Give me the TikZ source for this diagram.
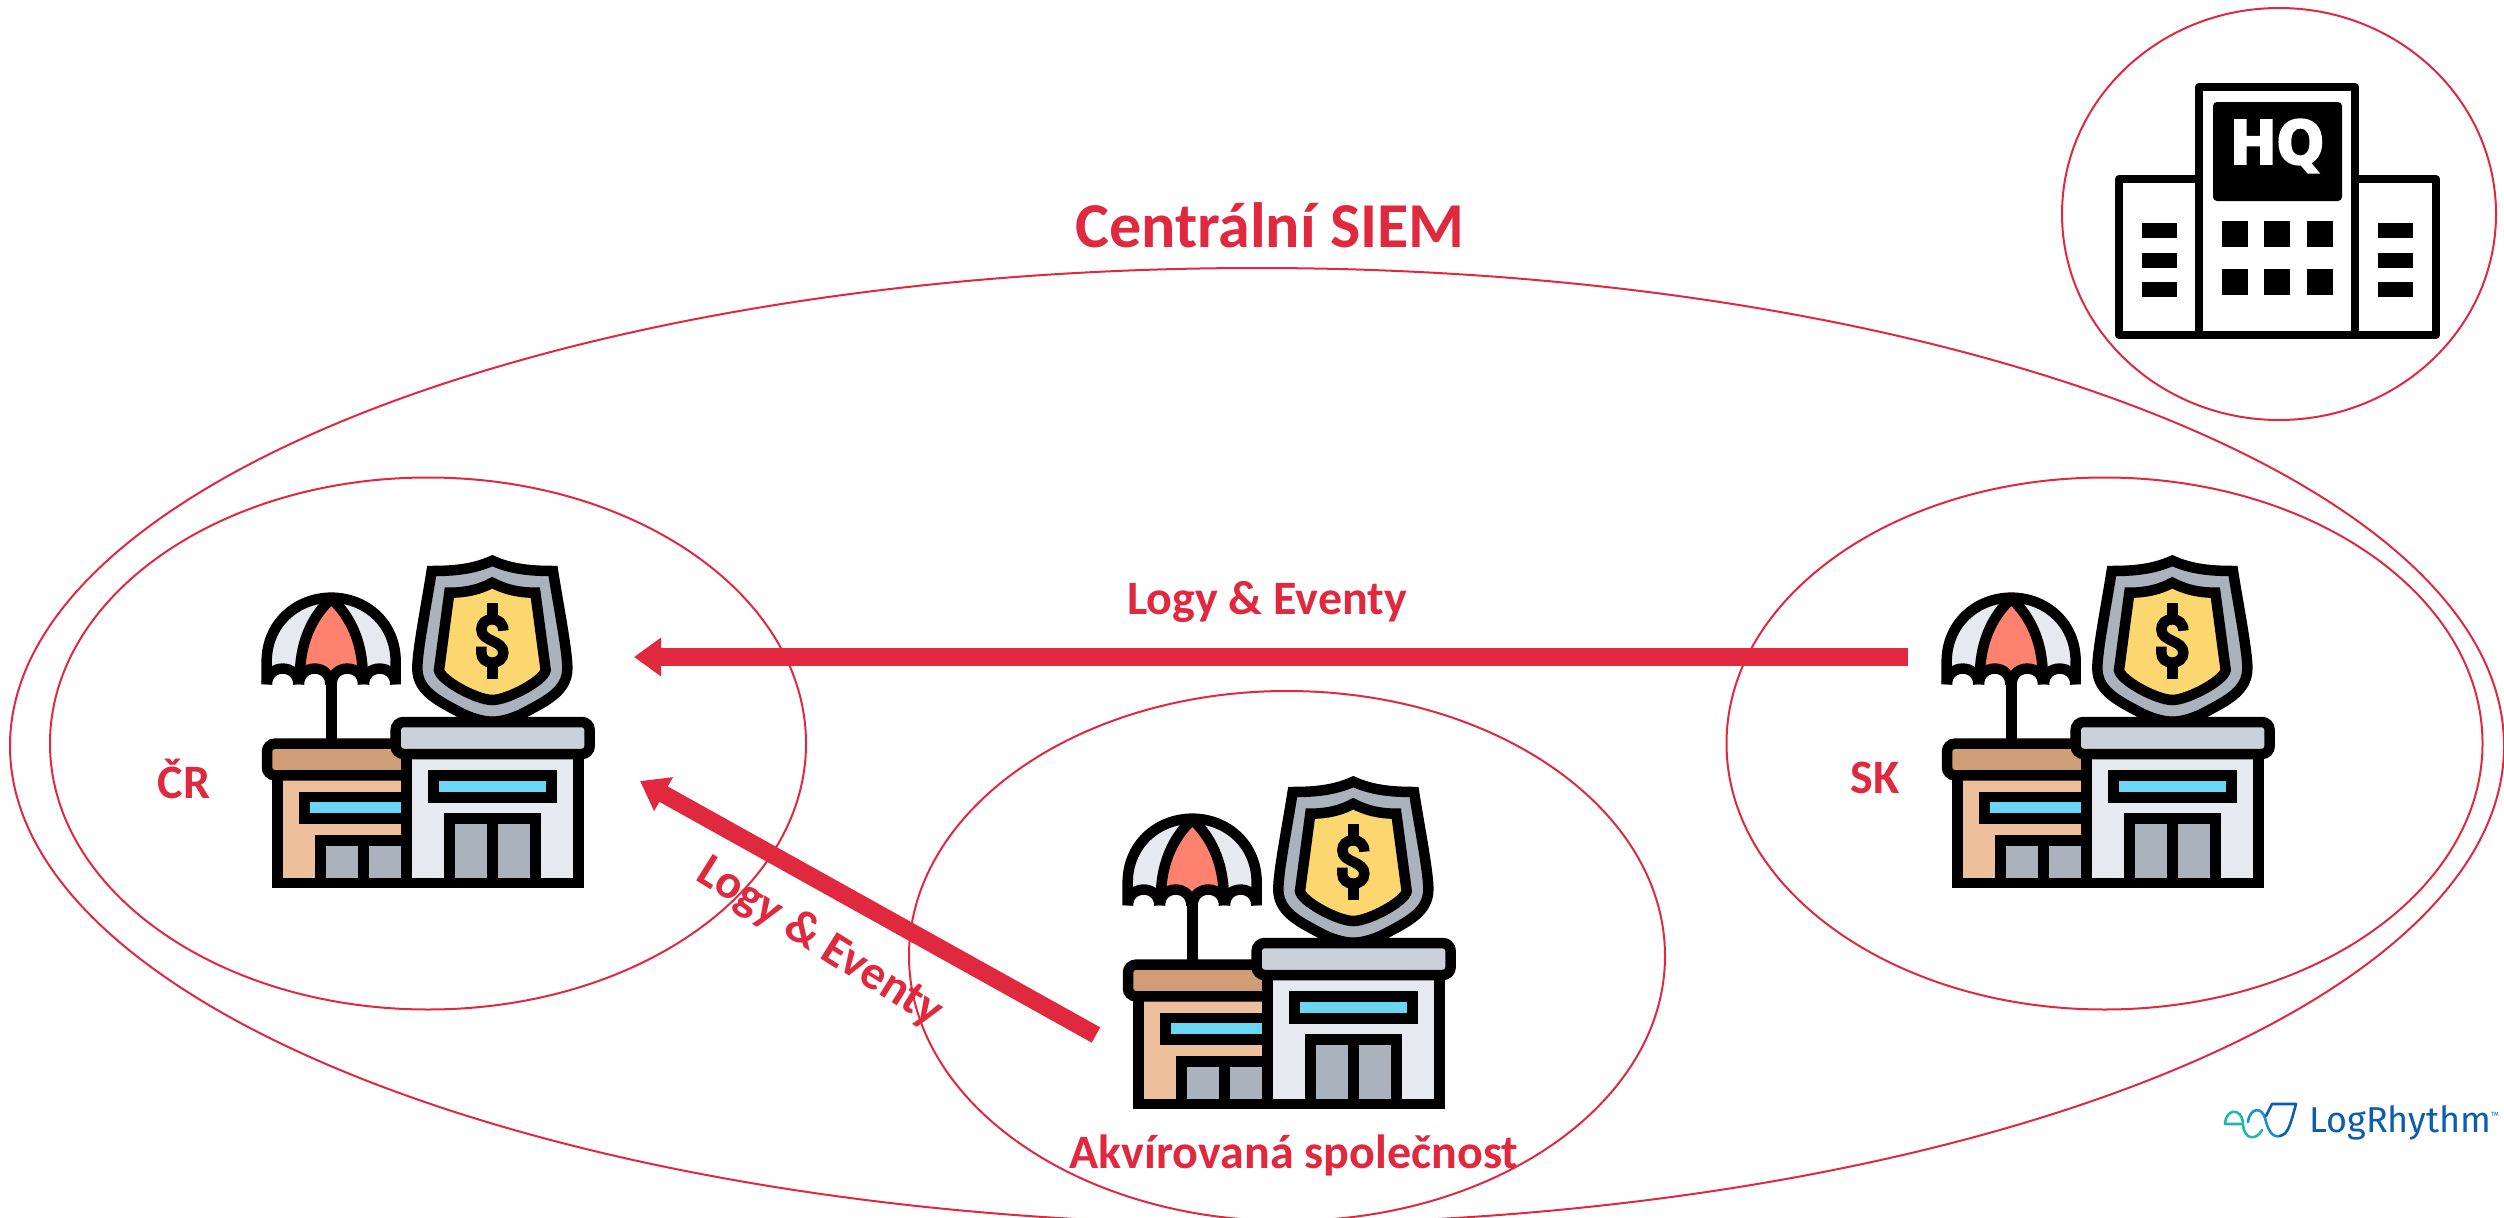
\documentclass[tikz,border=0pt]{standalone}
\usepackage{fontspec}
\setmainfont{Carlito}
\newfontfamily\hqfont[BoldFeatures={FakeBold=3.5}]{DejaVu Sans}
\newfontfamily\logofont{Fira Sans}
\usetikzlibrary{arrows.meta,shapes.geometric}
\definecolor{brandred}{HTML}{E0293E}
\definecolor{pgray}{HTML}{AAB2BD}
\definecolor{lgray}{HTML}{E6E9EE}
\definecolor{rgray}{HTML}{CCD1D9}
\definecolor{pblue}{HTML}{69D6F4}
\definecolor{pyellow}{HTML}{FCD770}
\definecolor{pcoral}{HTML}{FF826E}
\definecolor{pbrown}{HTML}{CF9E76}
\definecolor{ppeach}{HTML}{EDC09B}
\definecolor{logoblue}{HTML}{0B5DB3}
\definecolor{logomid}{HTML}{1A8FD6}
\definecolor{logoteal}{HTML}{22B8A6}
\tikzset{
  ring/.style={draw=brandred,line width=2pt,ellipse,inner sep=0pt,fill=none},
  redtext/.style={text=brandred,font=\bfseries\fontsize{48}{52}\selectfont,inner sep=0pt},
  bigarrow/.style={draw=brandred,line width=17.5pt,-{Triangle[length=27pt,width=37pt]}},
  ink/.style={draw=black,line width=10.5pt,miter limit=6},
  icon/.pic={
    \begin{scope}[x=0.33333pt,y=-0.33333pt]
      % pole
      \draw[ink] (274,400) -- (274,610);
      % umbrella canopy
      \fill[lgray] (80,433) -- (80,365) .. controls (80,250) and (170,173) .. (274,173)
        .. controls (378,173) and (467,250) .. (467,365) -- (467,433)
        .. controls (467,370) and (371,370) .. (371,433)
        .. controls (371,370) and (274,370) .. (274,433)
        .. controls (274,370) and (176,370) .. (176,433)
        .. controls (176,370) and (81,370) .. (81,433) -- cycle;
      \fill[pcoral] (274,178) .. controls (220,225) and (183,300) .. (180,395) -- (224,386) -- (274,420) -- (322,386) -- (368,395)
        .. controls (365,300) and (328,225) .. (274,178) -- cycle;
      \draw[ink] (80,433) -- (80,365) .. controls (80,250) and (170,173) .. (274,173)
        .. controls (378,173) and (467,250) .. (467,365) -- (467,433);
      \foreach \c in {128,224,322,419} {
        \draw[ink] (\c-47,433) .. controls (\c-47,370) and (\c+47,370) .. (\c+47,433);
      }
      \draw[ink] (274,176) .. controls (220,225) and (183,300) .. (180,395);
      \draw[ink] (274,176) .. controls (328,225) and (365,300) .. (368,395);
      % left building
      \draw[ink,fill=ppeach] (113,690) -- (113,1029) -- (500,1029) -- (500,690) -- cycle;
      \draw[ink,fill=pbrown,rounded corners=8pt] (81,706) rectangle (520,611);
      \draw[ink,fill=pblue] (193,771) rectangle (500,836);
      \draw[ink,fill=pgray] (241,1029) -- (241,901) -- (500,901) -- (500,1029) -- cycle;
      \draw[ink] (370,901) -- (370,1029);
      % shield
      \draw[ink,fill=pgray] (757,62) .. controls (700,88) and (640,93) .. (575,93)
        .. controls (560,190) and (532,330) .. (532,385)
        .. controls (532,450) and (590,480) .. (650,512) .. controls (690,535) and (730,545) .. (757,545)
        .. controls (784,545) and (824,535) .. (864,512) .. controls (924,480) and (982,450) .. (982,385)
        .. controls (982,330) and (954,190) .. (939,93)
        .. controls (874,93) and (814,88) .. (757,62) -- cycle;
      \draw[ink,fill=pyellow] (757,128) .. controls (720,148) and (680,158) .. (628,158)
        -- (597,390) .. controls (600,420) and (710,480) .. (757,480)
        .. controls (804,480) and (914,420) .. (917,390) -- (886,158)
        .. controls (834,158) and (794,148) .. (757,128) -- cycle;
      % dollar sign
      \draw[ink] (757,190) -- (757,238);
      \draw[ink] (757,368) -- (757,417);
      \draw[ink] (790,272) .. controls (790,250) and (775,238) .. (757,238)
        .. controls (737,238) and (724,250) .. (724,268)
        .. controls (724,288) and (742,295) .. (757,303)
        .. controls (775,311) and (790,320) .. (790,338)
        .. controls (790,356) and (775,368) .. (757,368)
        .. controls (738,368) and (724,356) .. (724,338) -- (724,320);
      % right building
      \draw[ink,fill=lgray] (499,630) -- (499,1029) -- (1015,1029) -- (1015,630);
      \draw[ink,fill=rgray,rounded corners=8pt] (467,546) rectangle (1049,642);
      \draw[ink,fill=pblue] (580,707) rectangle (935,772);
      \draw[ink,fill=pgray] (628,1029) -- (628,836) -- (887,836) -- (887,1029) -- cycle;
      \draw[ink] (757,836) -- (757,1029);
    \end{scope}
  }
}
\begin{document}
\begin{tikzpicture}[x=1pt,y=-1pt]
  \useasboundingbox (0,0) rectangle (2504,1218);
  \fill[white] (0,0) rectangle (2504,1218);
  % rings
  \node[ring,minimum width=2494pt,minimum height=956pt] (central) at (1257,746) {};
  \node[ring,minimum width=756pt,minimum height=532pt] (cr) at (428,743.5) {};
  \node[ring,minimum width=756pt,minimum height=532pt] (sk) at (2104.5,743.5) {};
  \node[ring,minimum width=756pt,minimum height=530pt] (akv) at (1287,956) {};
  \node[ring,minimum width=434pt,minimum height=412pt] (hq) at (2279,214) {};
  % branch icons
  \pic at (240,540) {icon};
  \pic at (1920,540) {icon};
  \pic at (1101,761) {icon};
  % connectors
  \coordinate (skout) at (1908,657);
  \coordinate (crin1) at (634,657);
  \coordinate (akvout) at (1096,1035);
  \coordinate (crin2) at (640,781);
  \draw[bigarrow] (skout) -- (crin1);
  \draw[bigarrow] (akvout) -- (crin2);
  % labels
  \node[redtext,font=\bfseries\fontsize{64}{68}\selectfont] (title) at (1270,225) {Centrální SIEM};
  \node[redtext] (lbl1) at (1267,602) {Logy \& Eventy};
  \node[redtext,rotate=-32] (lbl2) at (820,943) {Logy \& Eventy};
  \node[redtext] (lcr) at (184,779) {ČR};
  \node[redtext] (lsk) at (1875,778) {SK};
  \node[redtext] (lakv) at (1294,1155) {Akvírovaná společnost};
  % HQ building
  \begin{scope}[line join=round]
    \draw[black,line width=8pt] (2119,179) rectangle (2436,335);
    \draw[black,line width=8pt,fill=white] (2199,87) rectangle (2355,335);
    \fill[black,rounded corners=4pt] (2213,102) rectangle (2342,201);
    \foreach \wx in {2222,2264,2307} {
      \foreach \wy in {221,269} { \fill[black] (\wx,\wy) rectangle +(26,26); }
    }
    \foreach \bx in {2142,2378} {
      \foreach \by in {223,253,282} { \fill[black] (\bx,\by) rectangle +(35,15); }
    }
  \end{scope}
  \node[text=white,font=\hqfont\bfseries\fontsize{60}{64}\selectfont,inner sep=0pt,xscale=.93] (hqtext) at (2277,146) {HQ};
  % LogRhythm logo
  \begin{scope}[line width=2.6pt,line cap=round,line join=round]
    \draw[logoteal] (2243,1124) -- (2225,1124) .. controls (2226,1108) and (2241,1108) .. (2243,1122);
    \draw[logoteal] (2243,1124) .. controls (2244,1140) and (2256,1141) .. (2262,1130);
    \draw[logomid] (2248,1122) .. controls (2250,1107) and (2262,1107) .. (2265,1118) .. controls (2268,1130) and (2272,1138) .. (2280,1136);
    \draw[logoblue] (2280,1136) .. controls (2288,1134) and (2290,1126) .. (2296,1104) -- (2272,1104) -- (2266,1116);
  \end{scope}
  \node[text=logoblue,anchor=west,inner sep=0pt,font=\logofont\fontsize{36}{40}\selectfont] (logo) at (2309,1123) {LogRhythm};
  \node[text=logoblue,anchor=west,inner sep=0pt,font=\logofont\fontsize{6}{7}\selectfont] (tm) at (2491,1114) {TM};
\end{tikzpicture}
\end{document}
